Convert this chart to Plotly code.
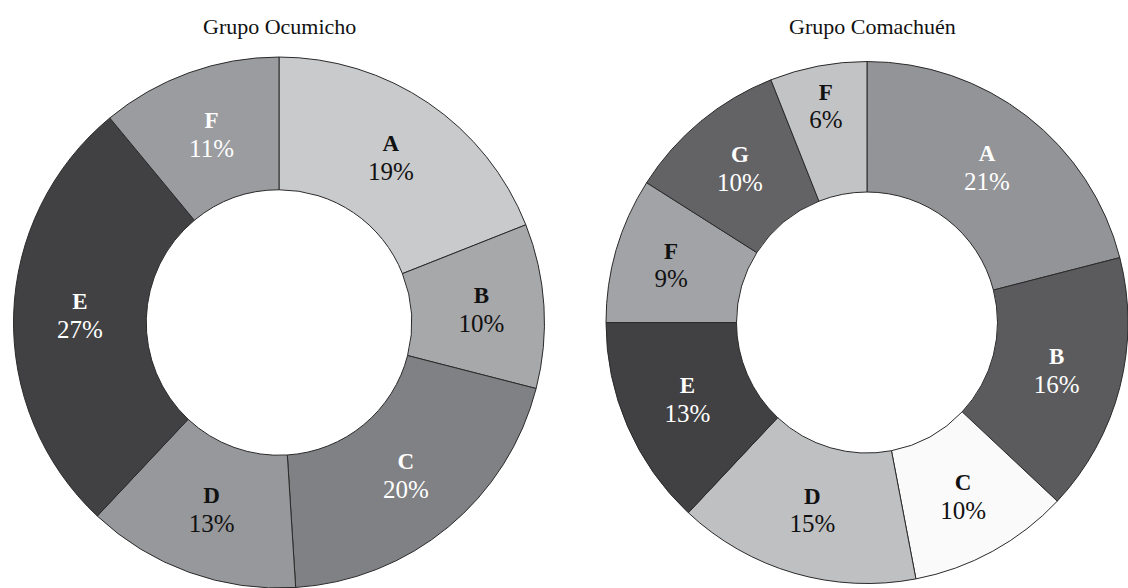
import plotly.graph_objects as go

# ---- data ----
ocu_ids = ["A", "B", "C", "D", "E", "F"]
ocu_names = ["A", "B", "C", "D", "E", "F"]
ocu_values = [19, 10, 20, 13, 27, 11]
ocu_colors = ["#c9cacc", "#a7a8aa", "#808184", "#97989b", "#414143", "#9b9c9f"]
ocu_text_colors = ["#111111", "#111111", "#ffffff", "#111111", "#ffffff", "#ffffff"]

com_ids = ["A", "B", "C", "D", "E", "F1", "G", "F2"]
com_names = ["A", "B", "C", "D", "E", "F", "G", "F"]
com_values = [21, 16, 10, 15, 13, 9, 10, 6]
com_colors = ["#939497", "#5b5b5d", "#fafafa", "#bfc0c2", "#414143", "#a2a3a6", "#636365", "#c2c3c5"]
com_text_colors = ["#ffffff", "#ffffff", "#111111", "#111111", "#ffffff", "#111111", "#ffffff", "#111111"]

titles = ["Grupo Ocumicho", "Grupo Comachuén"]

W, H = 1128, 588
FONT = "Liberation Serif, Times New Roman, serif"
tmpl = ("<span style='font-size:23px;font-weight:bold'>%{text}</span><br>"
        "<span style='font-size:25px'>%{value}%</span>")

fig = go.Figure()
fig.add_trace(go.Pie(
    ids=ocu_ids, labels=ocu_ids, values=ocu_values, text=ocu_names,
    sort=False, direction="clockwise", rotation=0, hole=0.5,
    marker=dict(colors=ocu_colors, line=dict(color="#2a2a2a", width=1)),
    texttemplate=tmpl, textinfo="text+value", textposition="inside",
    insidetextorientation="horizontal",
    textfont=dict(family=FONT, size=22, color=ocu_text_colors),
    domain=dict(x=[13 / W, 545 / W], y=[0, 0.903]),
    showlegend=False, hoverinfo="label+value",
))
fig.add_trace(go.Pie(
    ids=com_ids, labels=com_ids, values=com_values, text=com_names,
    sort=False, direction="clockwise", rotation=0, hole=0.5,
    marker=dict(colors=com_colors, line=dict(color="#2a2a2a", width=1)),
    texttemplate=tmpl, textinfo="text+value", textposition="inside",
    insidetextorientation="horizontal",
    textfont=dict(family=FONT, size=22, color=com_text_colors),
    domain=dict(x=[606 / W, 1.0], y=[0, 0.903]),
    showlegend=False, hoverinfo="label+value",
))

fig.add_annotation(text=titles[0], x=279 / W, y=1 - 27 / H, xref="paper", yref="paper",
                   showarrow=False, font=dict(family=FONT, size=22, color="#111111"),
                   xanchor="center", yanchor="middle")
fig.add_annotation(text=titles[1], x=872 / W, y=1 - 27 / H, xref="paper", yref="paper",
                   showarrow=False, font=dict(family=FONT, size=22, color="#111111"),
                   xanchor="center", yanchor="middle")

fig.update_layout(
    width=W, height=H,
    margin=dict(l=0, r=0, t=0, b=0),
    paper_bgcolor="white", plot_bgcolor="white",
    uniformtext=dict(minsize=22, mode="show"),
)

fig.write_html("out.html")
